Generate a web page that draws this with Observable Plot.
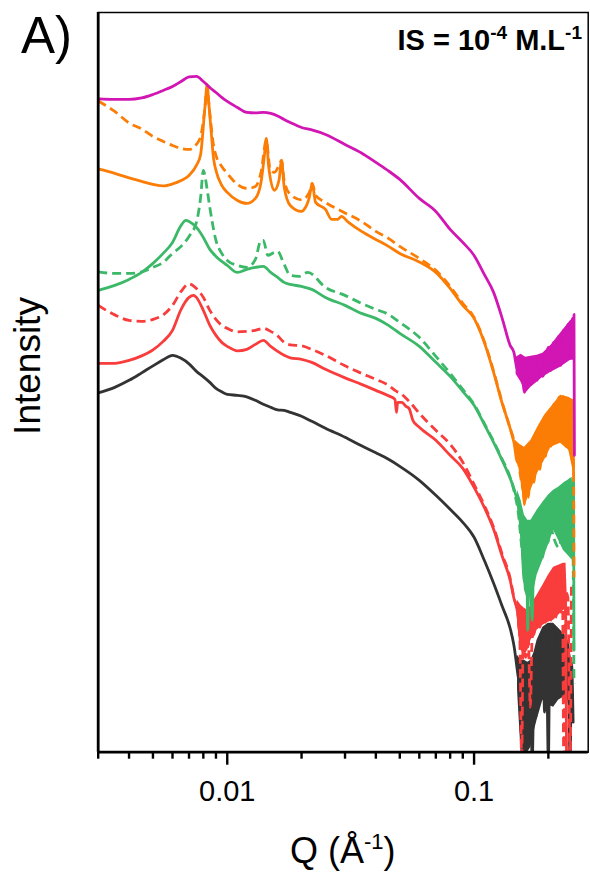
<!DOCTYPE html>
<html>
<head>
<meta charset="utf-8">
<script src="https://cdn.jsdelivr.net/npm/d3@7"></script>
<script src="https://cdn.jsdelivr.net/npm/@observablehq/plot@0.6"></script>
<style>
  html, body { margin: 0; padding: 0; background: #fff; }
  svg text { font-family: "Liberation Sans", Arial, sans-serif; }
</style>
</head>
<body>
<script>
// ---------- axis ----------
const xDomain = [0.003, 0.29];
const yDomain = [0, 740];
const xTicks = [0.01, 0.1];
const xTickLabels = ["0.01", "0.1"];
const xMinorTicks = [0.003, 0.004, 0.005, 0.006, 0.007, 0.008, 0.009, 0.02, 0.03, 0.04, 0.05, 0.06, 0.07, 0.08, 0.09, 0.2];
const panelLabel = "A)";
const xLabel = ["Q (Å", "-1", ")"];
const yLabel = "Intensity";
const annotation = ["IS = 10", "-4", "\u00a0M.L", "-1"];

// ---------- black solid ----------
const blackQ = [0.003,0.0035,0.004,0.0045,0.005,0.0055,0.006,0.0065,0.007,0.0075,0.008,0.0085,0.009,0.0095,0.01,0.011,0.012,0.013,0.014,0.015,0.016,0.017,0.018,0.02,0.022,0.025,0.03,0.035,0.04,0.045,0.05,0.06,0.07,0.08,0.09,0.1,0.11,0.12,0.13,0.14,0.145,
  0.15,0.153,0.155,0.157,0.16,0.163,0.166,0.169,0.172,0.175,0.178,0.18,0.185,0.19,0.193,0.196,0.2,0.203,0.207,0.21,0.215,0.22,0.225,0.23,0.235,0.24,0.245,0.248,0.252];
const blackI = [359.5,365,372,379.5,386.5,392.5,397,394,388.5,381,375.5,370,364,360.5,358,357,355.5,352,348,345,342.5,342,340,336,331,324,315,306.5,299.5,293,286,272,257,243,230,215,192,169,146,124,107,
  80,62,20,70,-10,60,10,80,-10,70,35,100,60,115,40,120,-10,125,60,125,55,120,60,118,58,110,-10,90,30];
const blackBandQ = [0.15,0.155,0.16,0.165,0.17,0.175,0.18,0.19,0.2,0.21,0.22,0.23,0.24,0.25];
const blackBandLo = [62,0,0,0,5,20,32,52,47,45,52,55,52,15];
const blackBandHi = [97,92,92,90,92,100,112,125,129,129,124,119,112,89];

// ---------- red solid ----------
const redQ = [0.003,0.0035,0.004,0.0045,0.005,0.0055,0.006,0.0065,0.007,0.0073,0.0075,0.008,0.0085,0.009,0.0095,0.01,0.011,0.012,0.013,0.014,0.015,0.016,0.017,0.018,0.02,0.022,0.025,0.03,0.035,0.04,0.045,0.0478,0.0485,0.049,0.051,0.053,0.0545,0.0565,0.06,0.07,0.08,0.09,0.1,0.11,0.12,0.13,0.14,0.145,
  0.15,0.153,0.155,0.158,0.16,0.163,0.165,0.17,0.175,0.18,0.185,0.19,0.195,0.2,0.205,0.21,0.215,0.22,0.225,0.23,0.235,0.237];
const redI = [389,389,392,396.5,402.5,411,422,443,455,457,455,442,427,417,410,406,401.5,403,408,412,406,401,397,394.5,393,390,383,374.5,368,362,356.5,353,340,350,350,346,344,332,325,312,297,284,265,245,223,196,172,154,
  140,120,105,140,100,140,105,145,118,155,125,165,130,175,132,183,135,186,140,188,145,-10];
const redBandQ = [0.15,0.155,0.16,0.165,0.17,0.18,0.19,0.2,0.21,0.22,0.23,0.236];
const redBandLo = [127,102,97,102,112,122,127,130,132,137,142,142];
const redBandHi = [152,147,144,142,147,157,167,177,185,187,189,189];

// ---------- red dashed ----------
const redDashQ = [0.003,0.0035,0.004,0.0045,0.005,0.0055,0.006,0.0065,0.007,0.0075,0.008,0.0085,0.009,0.0095,0.01,0.011,0.012,0.013,0.014,0.015,0.016,0.017,0.018,0.02,0.022,0.025,0.03,0.035,0.04,0.045,0.0485,0.0505,0.052,0.055,0.06,0.07,0.08,0.09,0.1,0.11,0.12,0.13,0.14,
  0.145,0.15,0.153,0.156,0.158,0.162,0.166,0.169,0.172,0.18,0.19,0.2,0.21,0.22,0.228,0.231,0.235,0.24,0.245,0.248];
const redDashI = [447,437.5,432,431,433,437.5,447,461,468.5,464,455,442,433,427,424,420.5,421,422,424,421,416.5,410,407.5,406.5,403,397,386.5,379,373,367,361,359,356,350,339,322,308,290,268,247,225,198,174,
  155,140,120,-10,110,95,110,45,115,125,130,140,150,160,165,-10,160,155,-10,170];

// ---------- green solid ----------
const greenQ = [0.003,0.0035,0.004,0.0045,0.005,0.0055,0.006,0.0065,0.0068,0.007,0.0075,0.008,0.0085,0.009,0.0095,0.01,0.011,0.012,0.013,0.014,0.015,0.016,0.017,0.018,0.02,0.022,0.025,0.03,0.035,0.04,0.045,0.05,0.06,0.07,0.08,0.09,0.1,0.11,0.12,0.13,0.14,0.145,
  0.15,0.155,0.16,0.163,0.165,0.167,0.17,0.172,0.175,0.18,0.185,0.19,0.195,0.2,0.205,0.21,0.215,0.22,0.225,0.23,0.235,0.24,0.245,0.25,0.253,0.254];
const greenI = [462,467,473,480,489,499,510,527,532,531,525,515,503,496,491,487,480,483,485,486,480,475,470,468,466,463,455,447,439,434,427,419,406,390,376,361,347,328,310,292,274,264,
  250,225,170,230,122,225,160,132,230,185,240,195,252,210,258,225,262,215,266,205,270,200,273,195,274,102];
const greenBandQ = [0.15,0.155,0.16,0.165,0.17,0.175,0.18,0.19,0.2,0.21,0.22,0.23,0.24,0.25];
const greenBandLo = [247,212,162,152,157,162,177,192,207,222,212,202,197,192];
const greenBandHi = [262,252,237,232,232,237,242,250,257,262,265,269,272,275];

// ---------- green dashed ----------
const greenDashQ = [0.003,0.0035,0.004,0.0045,0.005,0.0055,0.006,0.0065,0.007,0.0075,0.0078,0.008,0.0081,0.0083,0.0085,0.009,0.0095,0.01,0.011,0.012,0.013,0.0137,0.014,0.0146,0.0155,0.016,0.017,0.018,0.0195,0.0212,0.025,0.03,0.035,0.04,0.045,0.05,0.06,0.07,0.08,0.09,0.1,0.11,0.12,0.13,0.14,
  0.145,0.15,0.16,0.17,0.18,0.19,0.2,0.21,0.22,0.23,0.24,0.25,0.254];
const greenDashI = [480.5,479,479,480.5,485,490,499,506,516,530,555,582,578,562,545,512,499,492,487,485,493,512,512,497,500,501,488,477,476,480,465,457,449,443,438,430,415,396,379,363,348,329,311,293,275,
  262,245,190,200,215,225,235,215,205,225,240,250,69];

// ---------- orange solid ----------
const orangeQ = [0.003,0.0035,0.004,0.0045,0.005,0.0055,0.006,0.0065,0.007,0.0075,0.0078,0.0081,0.0083,0.0084,0.0086,0.0088,0.009,0.0095,0.01,0.011,0.012,0.013,0.0137,0.0141,0.0144,0.0147,0.0155,0.0162,0.0166,0.017,0.018,0.02,0.0205,0.0215,0.0221,0.0228,0.025,0.0265,0.028,0.029,0.031,0.035,0.04,0.045,0.05,0.06,0.07,0.08,0.09,0.1,0.11,0.12,0.13,0.14,
  0.145,0.15,0.155,0.16,0.163,0.166,0.17,0.175,0.18,0.185,0.19,0.195,0.2,0.205,0.21,0.215,0.22,0.225,0.23,0.235,0.24,0.245,0.25,0.253];
const orangeI = [583.5,579,574.5,571,568,566.5,568.5,572,577,587,598,642,668,652,622,594,582,567,560,552,549,554,570,594,614,587,562,572,592,566,547,541,543,555,569,550,543,533,533,536,530,521,513,506,499,490.5,480,464,447,434,410,380,349,324,
  310,290,300,248,295,255,305,270,320,283,332,296,340,306,348,310,355,312,356,306,354,300,352,278];
const orangeBandQ = [0.147,0.153,0.16,0.17,0.181,0.193,0.205,0.224,0.242,0.254];
const orangeBandLo = [300,280,245,262,279,292,305,309,302,277];
const orangeBandHi = [312,308,305,312,325,337,345,357,355,352];

// ---------- orange dashed ----------
const orangeDashQ = [0.003,0.0035,0.004,0.0045,0.005,0.0055,0.006,0.0065,0.007,0.0075,0.0078,0.0081,0.0083,0.0084,0.0086,0.0088,0.009,0.0095,0.01,0.011,0.012,0.013,0.0137,0.0144,0.0149,0.0155,0.0162,0.0166,0.017,0.018,0.02,0.0215,0.0221,0.0228,0.025,0.03,0.035,0.04,0.045,0.05,0.06,0.07,0.08,0.09,0.1,0.11,0.12,0.13,0.14,
  0.145,0.15,0.16,0.17,0.18,0.19,0.2,0.21,0.22,0.23,0.24,0.25,0.253,0.254];
const orangeDashI = [651.5,641,629.5,623.5,616,611,607,604,603,608,616,642,666,652,627,607,597,586,579,568,564,566,580,612,584,580,587,592,572,558,552.5,560,569,557,550,539.5,531,521,514,506,494,482,466,449,435,411,381,350,324,
  312,295,260,290,300,315,325,330,335,330,328,320,279,175];

// ---------- magenta solid ----------
const magentaQ = [0.003,0.0035,0.004,0.0045,0.005,0.0055,0.006,0.0065,0.007,0.0075,0.008,0.0085,0.009,0.0095,0.01,0.011,0.012,0.013,0.014,0.015,0.016,0.017,0.018,0.02,0.022,0.025,0.03,0.035,0.04,0.045,0.05,0.06,0.07,0.08,0.09,0.1,0.11,0.12,0.13,0.14,
  0.145,0.15,0.155,0.16,0.165,0.17,0.175,0.18,0.185,0.19,0.2,0.205,0.21,0.215,0.22,0.225,0.23,0.235,0.24,0.245,0.25,0.252,0.254,0.255];
const magentaI = [653.5,653,653,654.5,658,662,666,671,675.5,676,671,665,660,655,651,645,640,639.5,640,639,636.5,633,630,625,622.5,618,608,599.5,590,581.5,573,554,541,523,510,497,478,460,434,407,
  400,382,392,360,385,368,392,372,397,376,405,382,410,388,416,387,422,393,428,394,434,396,438,297];
const magentaBandQ = [0.148,0.155,0.162,0.17,0.18,0.19,0.205,0.224,0.246,0.255];
const magentaBandLo = [378,370,359,365,370,375,380,385,392,392];
const magentaBandHi = [395,398,395,396,397,399,407,419,432,434];

// ---------- series ----------
const colors = {black: "#333333", red: "#f93c3c", green: "#3cb869", orange: "#fb7d05", magenta: "#d116b4"};
const series = [
  {q: blackQ, v: blackI, color: colors.black, dash: null, band: [blackBandQ, blackBandLo, blackBandHi]},
  {q: redQ, v: redI, color: colors.red, dash: null, band: [redBandQ, redBandLo, redBandHi]},
  {q: redDashQ, v: redDashI, color: colors.red, dash: "9,5", band: null},
  {q: greenQ, v: greenI, color: colors.green, dash: null, band: [greenBandQ, greenBandLo, greenBandHi]},
  {q: greenDashQ, v: greenDashI, color: colors.green, dash: "9,5", band: null},
  {q: orangeQ, v: orangeI, color: colors.orange, dash: null, band: [orangeBandQ, orangeBandLo, orangeBandHi]},
  {q: orangeDashQ, v: orangeDashI, color: colors.orange, dash: "9,5", band: null},
  {q: magentaQ, v: magentaI, color: colors.magenta, dash: null, band: [magentaBandQ, magentaBandLo, magentaBandHi]}
];

const marks = [];
for (const s of series) {
  if (s.band) {
    const [bq, lo, hi] = s.band;
    const bandRows = bq.map((q, i) => ({q, lo: lo[i], hi: hi[i]}));
    marks.push(Plot.areaY(bandRows, {x: "q", y1: "lo", y2: "hi", fill: s.color, clip: true}));
  }
  const rows = s.q.map((q, i) => ({q, v: s.v[i]}));
  marks.push(Plot.line(rows, {x: "q", y: "v", stroke: s.color, strokeWidth: 2.8,
    curve: "monotone-x",
    strokeDasharray: s.dash, strokeLinecap: s.dash ? "butt" : "round", clip: true}));
}

const chart = Plot.plot({
  width: 590,
  height: 875,
  marginLeft: 97.7,
  marginRight: 2.3,
  marginTop: 12,
  marginBottom: 123.3,
  style: {fontFamily: "'Liberation Sans', Arial, sans-serif", fontSize: "28px", background: "#fff", color: "#000"},
  x: {type: "log", domain: xDomain, label: null},
  y: {domain: yDomain, axis: null, label: null},
  marks: [
    ...marks,
    Plot.frame({stroke: "#000", strokeWidth: 1.5}),
    Plot.ruleX([xDomain[0]], {stroke: "#000", strokeWidth: 2.8}),
    Plot.ruleY([yDomain[0]], {stroke: "#000", strokeWidth: 2.8}),
    Plot.axisX(xMinorTicks, {tickSize: 7, strokeWidth: 2.4, tickFormat: () => "", label: null}),
    Plot.axisX(xTicks, {tickSize: 13, tickPadding: 15, strokeWidth: 2.4,
      tickFormat: d => xTickLabels[xTicks.indexOf(d)], label: null})
  ]
});
document.body.appendChild(chart);

const svg = d3.select(chart);
// enforce tick label size
svg.selectAll("text")
  .filter(function() { return xTickLabels.includes(this.textContent); })
  .style("font-size", "29px")
  .style("font-family", "'Liberation Sans', Arial, sans-serif");

svg.append("text").attr("x", 21).attr("y", 53).attr("text-anchor", "start")
  .style("font-size", "51px").attr("fill", "#000").text(panelLabel);

const ann = svg.append("text").attr("x", 582).attr("y", 50).attr("text-anchor", "end")
  .style("font-size", "29px").attr("font-weight", "bold").attr("fill", "#000");
ann.append("tspan").text(annotation[0]);
ann.append("tspan").style("font-size", "19px").attr("dy", -11).text(annotation[1]);
ann.append("tspan").attr("dy", 11).text(annotation[2]);
ann.append("tspan").style("font-size", "19px").attr("dy", -11).text(annotation[3]);

svg.append("text").attr("transform", "translate(40,366) rotate(-90)").attr("text-anchor", "middle")
  .style("font-size", "37px").attr("fill", "#000").text(yLabel);

const xl = svg.append("text").attr("x", 342.7).attr("y", 863).attr("text-anchor", "middle")
  .style("font-size", "36px").attr("fill", "#000");
xl.append("tspan").text(xLabel[0]);
xl.append("tspan").style("font-size", "22px").attr("dy", -14).text(xLabel[1]);
xl.append("tspan").attr("dy", 14).text(xLabel[2]);
</script>
</body>
</html>
